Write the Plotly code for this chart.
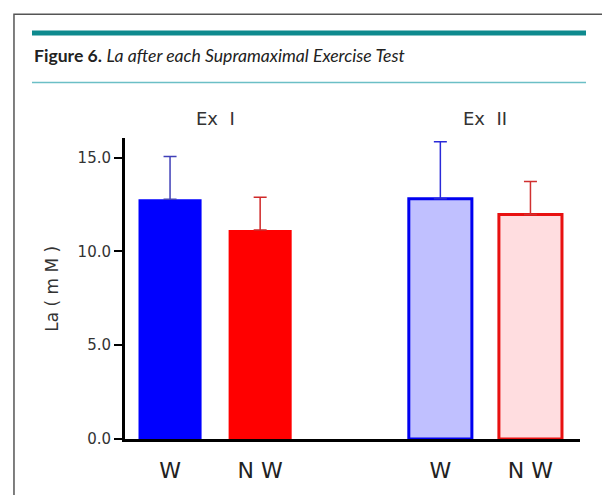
import plotly.graph_objects as go

# values (La, mM)
groups = ["Ex I", "Ex II"]
conditions = ["W", "N W"]
la_mean_ex1 = [12.78, 11.15]
la_sd_ex1 = [2.28, 1.74]
la_mean_ex2 = [12.81, 11.97]
la_sd_ex2 = [3.04, 1.76]
y_ticks = [0, 5, 10, 15]

means = [la_mean_ex1, la_mean_ex2]
sds = [la_sd_ex1, la_sd_ex2]

# styles per group / condition
fill = [["#0000FF", "#FF0000"], ["#C0C0FF", "#FFDDE0"]]
edge = [["#0000FF", "#FF0000"], ["#0000F0", "#E81010"]]
edge_w = [0, 3]
err_col = [["#4040B8", "#D02828"], ["#2A2AD8", "#D03030"]]

fig = go.Figure()
tick_pos, tick_txt = [], []
for g, grp in enumerate(groups):
    for c, cond in enumerate(conditions):
        pos = g * 3 + c
        tick_pos.append(pos)
        tick_txt.append(cond)
        fig.add_trace(go.Bar(
            x=[pos], y=[means[g][c]], width=0.7,
            marker=dict(color=fill[g][c],
                        line=dict(color=edge[g][c], width=edge_w[g])),
            error_y=dict(type="data", symmetric=False,
                         array=[sds[g][c]], arrayminus=[0],
                         color=err_col[g][c], thickness=1.5, width=6.5),
            name=f"{grp} {cond}", showlegend=False,
        ))

# page has an 8px body margin, so the figure is 8px smaller than the window
fig.update_layout(
    width=602, height=487,
    margin=dict(l=117, r=30, t=130, b=53),
    paper_bgcolor="white", plot_bgcolor="white",
    barmode="overlay",
    font=dict(family="DejaVu Sans", color="#333"),
)
fig.update_xaxes(
    range=[-0.5, 4.55], showgrid=False, zeroline=False,
    showline=True, linewidth=3, linecolor="black",
    tickmode="array", tickvals=tick_pos, ticktext=tick_txt,
    ticks="outside", ticklen=10, tickcolor="rgba(0,0,0,0)",
    tickfont=dict(size=22, color="#222"),
)
fig.update_yaxes(
    range=[0, 16.05], showgrid=False, zeroline=False,
    showline=True, linewidth=3, linecolor="black",
    tickmode="array", tickvals=y_ticks, tickformat=".1f",
    ticks="outside", ticklen=8, tickwidth=2, tickcolor="black",
    tickfont=dict(size=15, color="#333"),
)

# frame and the journal's caption block
fig.add_shape(type="path", xref="paper", yref="paper",
              path="M -0.244,-0.2 L -0.244,1.4112 L 1.0549,1.4112 L 1.0549,-0.2",
              line=dict(color="#555", width=1.5))
fig.add_shape(type="line", xref="paper", yref="paper",
              x0=-0.2044, x1=1.0132, y0=1.3487, y1=1.3487,
              line=dict(color="#0E8A8E", width=5))
fig.add_shape(type="line", xref="paper", yref="paper",
              x0=-0.2044, x1=1.0132, y0=1.1842, y1=1.1842,
              line=dict(color="#6BBFC6", width=1.5))

fig.add_annotation(
    text="<b>Figure 6.</b> <i>La after each Supramaximal Exercise Test</i>",
    xref="paper", yref="paper", x=-0.2044, y=1.273,
    xanchor="left", yanchor="middle", showarrow=False,
    font=dict(family="Lato", size=17.6, color="#222"),
)
for g, grp in enumerate(groups):
    fig.add_annotation(text=grp.replace(" ", "  "), xref="x", yref="paper",
                       x=g * 3 + 0.5, y=1.0658, showarrow=False,
                       xanchor="center", yanchor="middle",
                       font=dict(size=18, color="#333"))
fig.add_annotation(text="La ( m M )", xref="paper", yref="paper",
                   x=-0.162, y=0.5, textangle=-90, showarrow=False,
                   xanchor="center", yanchor="middle",
                   font=dict(size=17, color="#333"))

fig.write_html("out.html")
